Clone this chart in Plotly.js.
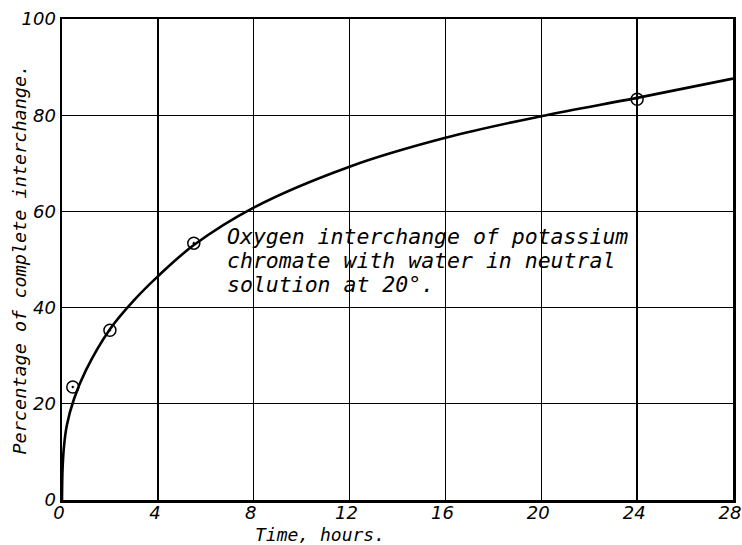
<!DOCTYPE html>
<html>
<head>
<meta charset="utf-8">
<script src="https://cdn.plot.ly/plotly-3.0.1.min.js"></script>
<style>html,body{margin:0;padding:0;background:#fff;}#chart{width:742px;height:545px;}</style>
</head>
<body>
<div id="chart"></div>
<script>
// Observed points
const obsTime = [0.45, 2.0, 5.5, 24.0];
const obsPct = [23.5, 35.3, 53.4, 83.3];
// Smooth drawn curve
const curveTime = [0, 0.02, 0.08, 0.2, 0.5, 1, 2, 3, 4, 5.5, 8, 12, 16, 20, 24, 28];
const curvePct = [0, 6, 11, 15.5, 21, 27, 35.5, 41.5, 46.5, 53.0, 60.8, 69.3, 75.3, 79.8, 83.6, 87.6];
const xTicks = [0, 4, 8, 12, 16, 20, 24, 28];
const yTicks = [0, 20, 40, 60, 80, 100];
const noteLines = ["Oxygen interchange of potassium", "chromate with water in neutral", "solution at 20°."];
const noteY = [54.7, 49.7, 44.7];

const fontFam = "DejaVu Sans Mono, Liberation Mono, monospace";
const tickFam = "DejaVu Sans, Liberation Sans, sans-serif";
const traces = [
  {x: curveTime, y: curvePct, mode: "lines", line: {color: "#000", width: 2.6, shape: "spline", smoothing: 1}, hoverinfo: "skip", showlegend: false},
  {x: obsTime, y: obsPct, mode: "markers", marker: {symbol: "circle-open-dot", size: 12, color: "#000", line: {width: 1.5, color: "#000"}}, showlegend: false}
];
const annots = noteLines.map((t, i) => ({
  text: t, xref: "x", yref: "y", x: 6.82, y: noteY[i], xanchor: "left", yanchor: "middle", align: "left", showarrow: false,
  font: {family: fontFam, size: 21.5, style: "italic", color: "#000"}
}));
annots.push({text: "Time, hours.", xref: "paper", yref: "paper", x: 0.385, y: -0.0707, xanchor: "center", yanchor: "middle", showarrow: false,
  font: {family: fontFam, size: 18, style: "italic", color: "#000"}});
annots.push({text: "Percentage of complete interchange.", xref: "paper", yref: "paper", x: -0.064, y: 0.5, xanchor: "center", yanchor: "middle",
  textangle: -90, showarrow: false, font: {family: fontFam, size: 18.5, style: "italic", color: "#000"}});
const layout = {
  width: 742, height: 545,
  margin: {l: 62, r: 9, t: 19, b: 45},
  paper_bgcolor: "#fff", plot_bgcolor: "#fff",
  font: {family: fontFam, color: "#000", size: 16, style: "italic"},
  xaxis: {range: [-0.0001, 28.0001], tickvals: xTicks, ticktext: xTicks.map(String), showgrid: true, gridcolor: "#000", gridwidth: 1.4,
    zeroline: false, showline: true, linecolor: "#000", linewidth: 2.5, mirror: true, ticks: "", ticklen: 0,
    ticklabeloverflow: "allow", ticklabelshift: -3, ticklabelstandoff: -5,
    tickfont: {family: tickFam, size: 18, style: "italic", color: "#000"}},
  yaxis: {range: [-0.0001, 100.0001], tickvals: yTicks, ticktext: yTicks.map(String), showgrid: true, gridcolor: "#000", gridwidth: 1.4,
    zeroline: false, showline: true, linecolor: "#000", linewidth: 2.5, mirror: true, ticks: "", ticklen: 0,
    tickfont: {family: tickFam, size: 18, style: "italic", color: "#000"}},
  annotations: annots
};
Plotly.newPlot("chart", traces, layout, {displayModeBar: false, staticPlot: true});
</script>
</body>
</html>
